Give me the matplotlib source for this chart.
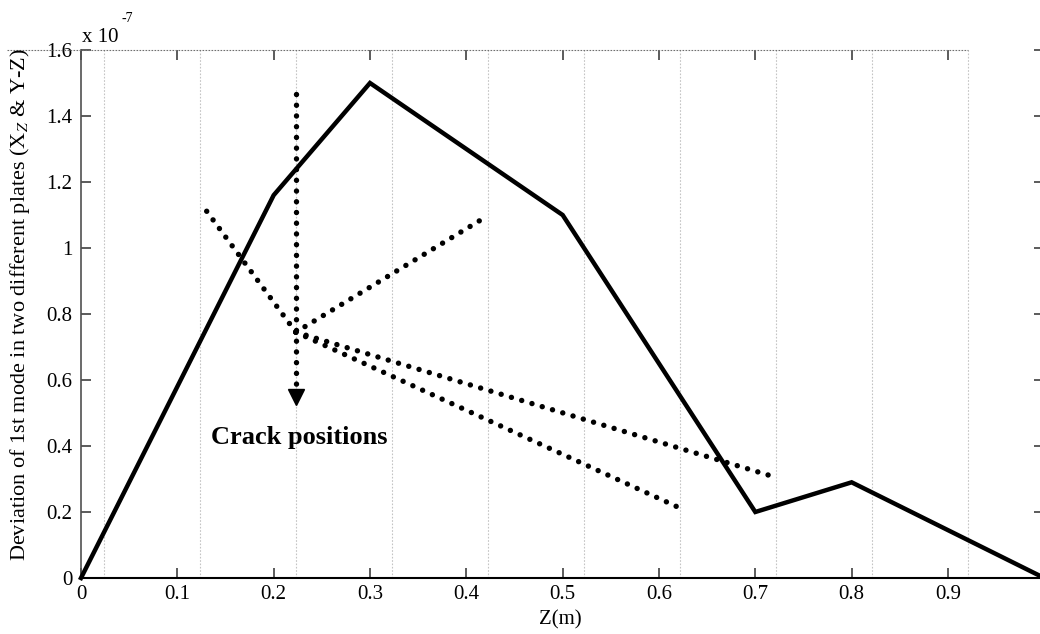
import matplotlib
matplotlib.use("Agg")
import matplotlib.pyplot as plt
from matplotlib.lines import Line2D

# ---- data (deviation values in units of 1e-7) ----
z = [0.0, 0.2, 0.3, 0.5, 0.7, 0.8, 1.0]
deviation = [0.0, 1.16, 1.50, 1.10, 0.20, 0.29, 0.0]

# crack-position indicator lines (start point = hub, end points)
hub_x, hub_y = 0.223, 0.745
ends_x = [0.124, 0.419, 0.718, 0.621]
ends_y = [1.137, 1.092, 0.308, 0.213]
arrow_x = 0.223
arrow_top, arrow_tip = 1.467, 0.525

grid_x = [0.024, 0.1237, 0.2234, 0.3231, 0.4228, 0.5225, 0.6222, 0.7219, 0.8216, 0.9213]
xticks = [0, 0.1, 0.2, 0.3, 0.4, 0.5, 0.6, 0.7, 0.8, 0.9]
xticklabels = ["0", "0.1", "0.2", "0.3", "0.4", "0.5", "0.6", "0.7", "0.8", "0.9"]
yticks = [0, 0.2, 0.4, 0.6, 0.8, 1.0, 1.2, 1.4, 1.6]
yticklabels = ["0", "0.2", "0.4", "0.6", "0.8", "1", "1.2", "1.4", "1.6"]

plt.rcParams['font.family'] = ['Liberation Serif', 'DejaVu Serif']
plt.rcParams['mathtext.fontset'] = 'stix'

W, H = 1040, 634
fig = plt.figure(figsize=(W / 100, H / 100), dpi=100)
left, right, bottom, top = 81, 1044.3, 578, 50
ax = fig.add_axes([left / W, (H - bottom) / H, (right - left) / W, (bottom - top) / H])
ax.set_xlim(0, 1)
ax.set_ylim(0, 1.6)

for gx in grid_x:
    ax.axvline(gx, color='#c4c4c4', lw=0.8, ls=(0, (1.5, 1.5)), zorder=0)

ax.plot(z, deviation, color='black', lw=3.2, solid_joinstyle='miter', zorder=3, clip_on=False)

dot = dict(color='black', lw=3.9, ls=(0, (0.01, 1.97)), dash_capstyle='round', zorder=4)
for ex, ey in zip(ends_x, ends_y):
    ax.plot([hub_x, ex], [hub_y, ey], **dot)
ax.plot([arrow_x, arrow_x], [arrow_top, arrow_tip + 0.05], **dot)
ax.plot([arrow_x], [arrow_tip + 0.022], marker='v', color='black', markersize=11, zorder=5)

ax.text(0.227, 0.427, 'Crack positions', fontsize=19, fontweight='bold', ha='center', va='center')

ax.set_xticks(xticks)
ax.set_xticklabels(xticklabels)
ax.set_yticks(yticks)
ax.set_yticklabels(yticklabels)
ax.tick_params(direction='in', length=7, width=1.2, color='#404040', labelsize=15,
               labelcolor='black', top=True, right=True, pad=5)
ax.tick_params(axis='y', pad=6)

ax.spines['top'].set_visible(False)
ax.spines['right'].set_visible(False)
ax.spines['left'].set_color('#505050')
ax.spines['left'].set_linewidth(1.2)
ax.spines['bottom'].set_color('black')
ax.spines['bottom'].set_linewidth(1.5)

# dashed top border line as in the original figure
fig.add_artist(Line2D([7 / W, 968 / W], [(H - 50) / H] * 2, color='#707070', lw=0.8,
                      ls=(0, (1.5, 1.2)), transform=fig.transFigure))

fig.text(560 / W, (H - 620) / H, 'Z(m)', fontsize=15, ha='center', va='center')
fig.text(20 / W, (H - 305) / H,
         r'Deviation of 1st mode in two different plates (X$_{\mathit{Z}}$ & Y-Z)',
         fontsize=16, rotation=90, ha='center', va='center')
fig.text(82 / W, (H - 37) / H, 'x 10', fontsize=15, ha='left', va='center')
fig.text(121 / W, (H - 19) / H, '-7', fontsize=10, ha='left', va='center')

fig.savefig('out.png', dpi=100)
